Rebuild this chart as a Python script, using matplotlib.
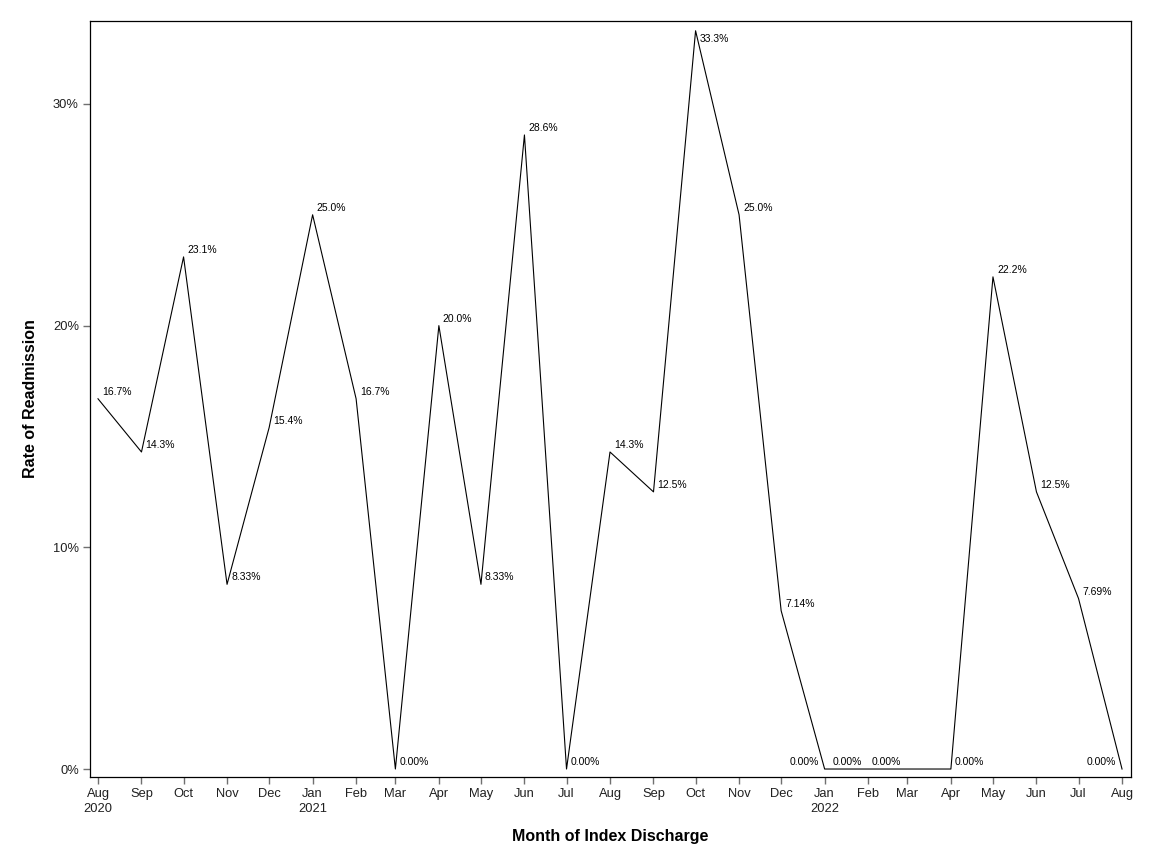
import datetime as dt
import matplotlib
matplotlib.use('Agg')
import matplotlib.pyplot as plt
import matplotlib.dates as mdates

months = [dt.date(2020 + (7 + i) // 12, (7 + i) % 12 + 1, 1) for i in range(25)]
rates = [16.7, 14.3, 23.1, 8.33, 15.4, 25.0, 16.7, 0.0, 20.0, 8.33, 28.6, 0.0,
         14.3, 12.5, 33.3, 25.0, 7.14, 0.0, 0.0, 0.0, 0.0, 22.2, 12.5, 7.69, 0.0]
# label placement: 'r' right/above, 'l' left/above, 'b' right/below
label_pos = ['r'] * 25
label_pos[14] = 'b'
for i in (17, 18, 19, 24):
    label_pos[i] = 'l'

yticks = [0, 10, 20, 30]

plt.rcParams['font.family'] = ['Liberation Sans', 'DejaVu Sans']

fig = plt.figure(figsize=(11.52, 8.64), dpi=100)
ax = fig.add_axes([90 / 1152, 87 / 864, 1041 / 1152, 756 / 864])

x = mdates.date2num(months)
ax.plot(x, rates, color='black', linewidth=0.8)

for xi, v, p in zip(x, rates, label_pos):
    txt = format(v, '#.3g') + '%'
    if p == 'l':
        ax.annotate(txt, (xi, v), xytext=(-6, 4), textcoords='offset pixels',
                    ha='right', va='baseline', fontsize=7.5, color='black')
    elif p == 'b':
        ax.annotate(txt, (xi, v), xytext=(4, -3), textcoords='offset pixels',
                    ha='left', va='top', fontsize=7.5, color='black')
    else:
        ax.annotate(txt, (xi, v), xytext=(4, 4), textcoords='offset pixels',
                    ha='left', va='baseline', fontsize=7.5, color='black')

ax.set_xlim(x[0] - 5.7, x[-1] + 6.4)
ax.set_ylim(-0.36, 33.74)

ax.set_xticks(x)
ax.set_xticklabels([d.strftime('%b') + ('\n' + str(d.year) if (i == 0 or d.month == 1) else '')
                    for i, d in enumerate(months)], linespacing=1.35)
ax.set_yticks(yticks)
ax.set_yticklabels([f'{t}%' for t in yticks])

ax.tick_params(axis='both', direction='out', length=5, width=1, color='#707070',
               labelsize=9.3, labelcolor='#202020', pad=3)
for s in ax.spines.values():
    s.set_linewidth(0.9)
    s.set_color('black')

ax.set_xlabel('Month of Index Discharge', fontsize=11.5, fontweight='bold', labelpad=10)
ax.set_ylabel('Rate of Readmission', fontsize=11.5, fontweight='bold', labelpad=11)

fig.savefig('out.png', dpi=100)
